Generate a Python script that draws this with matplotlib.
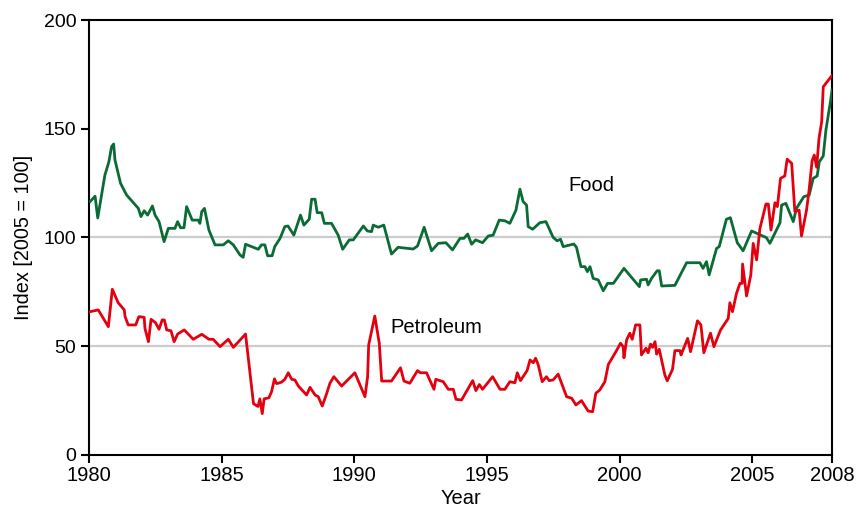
import matplotlib.pyplot as plt

# values (index, 2005 = 100)
food_year = [1980.04, 1980.23, 1980.33, 1980.6, 1980.75, 1980.85, 1980.93, 1980.98, 1981.19, 1981.42,
             1981.86, 1981.96, 1982.08, 1982.21, 1982.39, 1982.49, 1982.64, 1982.83, 1982.99, 1983.24,
             1983.34, 1983.45, 1983.58, 1983.68, 1983.89, 1984.12, 1984.18, 1984.25, 1984.35, 1984.52,
             1984.75, 1985.06, 1985.25, 1985.44, 1985.69, 1985.81, 1985.9, 1986.38, 1986.5, 1986.63,
             1986.73, 1986.9, 1987.0, 1987.2, 1987.38, 1987.5, 1987.72, 1987.97, 1988.1, 1988.3,
             1988.39, 1988.52, 1988.6, 1988.77, 1988.87, 1989.14, 1989.39, 1989.56, 1989.81, 1989.96,
             1990.34, 1990.49, 1990.65, 1990.71, 1990.9, 1991.11, 1991.4, 1991.65, 1992.22, 1992.38,
             1992.63, 1992.91, 1993.16, 1993.45, 1993.7, 1993.98, 1994.13, 1994.27, 1994.42, 1994.57,
             1994.73, 1994.83, 1995.05, 1995.23, 1995.46, 1995.67, 1995.86, 1996.09, 1996.24, 1996.36,
             1996.49, 1996.55, 1996.72, 1996.99, 1997.22, 1997.49, 1997.64, 1997.77, 1997.87, 1998.27,
             1998.37, 1998.54, 1998.69, 1998.78, 1998.88, 1999.0, 1999.19, 1999.38, 1999.54, 1999.76,
             2000.16, 2000.74, 2000.79, 2001.01, 2001.07, 2001.2, 2001.41, 2001.49, 2001.58, 2002.08,
             2002.52, 2003.02, 2003.14, 2003.27, 2003.37, 2003.65, 2003.75, 2004.02, 2004.17, 2004.43,
             2004.65, 2004.97, 2005.22, 2005.53, 2005.66, 2006.04, 2006.1, 2006.26, 2006.54, 2006.66,
             2006.94, 2007.14, 2007.29, 2007.44, 2007.52, 2007.67, 2007.77, 2007.95, 2008.0]
food_index = [116.5, 119, 109, 128.7, 134.8, 141.7, 143, 135.6, 124.9, 119.5,
              113.4, 109.6, 112.3, 110.3, 114.5, 110.3, 107.3, 98.1, 104.2, 104.2,
              107.3, 104.5, 104.5, 114.2, 108, 108, 106.5, 111.9, 113.4, 103.4,
              96.6, 96.6, 98.5, 96.6, 92, 90.9, 96.9, 94.6, 96.6, 96.6,
              91.6, 91.6, 95.8, 99.6, 105, 105.3, 101.1, 110.3, 105.7, 108.4,
              117.6, 117.6, 111.4, 111.4, 106.5, 106.5, 101.1, 94.6, 98.9, 98.9,
              105.3, 103, 102.7, 105.7, 104.7, 105.7, 92.4, 95.5, 94.7, 96.1,
              104.7, 93.9, 97.3, 97.6, 94.3, 99.6, 99.6, 101.6, 96.9, 98.9,
              98.1, 97.6, 100.7, 101.1, 108, 107.7, 106.5, 112.6, 122.2, 116.5,
              114.9, 105, 103.8, 106.8, 107.3, 100.1, 98.5, 99.2, 95.8, 97,
              95.5, 86.6, 86.6, 84.3, 86.6, 81.2, 80.5, 75.5, 78.9, 78.9,
              85.8, 77.4, 80.5, 80.8, 78.2, 81.2, 84.7, 84.7, 77.7, 78,
              88.4, 88.4, 85.8, 88.9, 82.8, 95, 95.8, 108.4, 109.1, 97.6,
              93.9, 103, 101.6, 99.9, 97.3, 106.8, 114.9, 115.7, 107.3, 113.4,
              118.8, 119.5, 127.2, 128.3, 134.8, 137.5, 149.4, 163.2, 167.8]

petrol_year = [1980.04, 1980.35, 1980.73, 1980.88, 1981.1, 1981.33, 1981.36, 1981.48, 1981.76, 1981.88,
               1982.08, 1982.11, 1982.24, 1982.34, 1982.51, 1982.64, 1982.76, 1982.84, 1982.93, 1983.09,
               1983.21, 1983.34, 1983.59, 1983.93, 1984.25, 1984.52, 1984.68, 1984.94, 1985.25, 1985.44,
               1985.9, 1986.2, 1986.37, 1986.44, 1986.53, 1986.6, 1986.78, 1986.88, 1986.99, 1987.07,
               1987.26, 1987.38, 1987.51, 1987.64, 1987.76, 1987.89, 1988.2, 1988.33, 1988.52, 1988.64,
               1988.79, 1988.95, 1989.08, 1989.23, 1989.52, 1990.02, 1990.4, 1990.5, 1990.54, 1990.77,
               1990.94, 1991.03, 1991.4, 1991.74, 1991.87, 1992.09, 1992.38, 1992.49, 1992.72, 1993.0,
               1993.07, 1993.35, 1993.54, 1993.73, 1993.83, 1994.04, 1994.46, 1994.58, 1994.71, 1994.83,
               1995.21, 1995.49, 1995.67, 1995.86, 1996.05, 1996.14, 1996.26, 1996.51, 1996.62, 1996.74,
               1996.83, 1996.93, 1997.08, 1997.24, 1997.34, 1997.49, 1997.68, 1998.0, 1998.19, 1998.35,
               1998.56, 1998.81, 1998.98, 1999.1, 1999.25, 1999.44, 1999.57, 1999.88, 2000.03, 2000.13,
               2000.16, 2000.26, 2000.38, 2000.47, 2000.6, 2000.76, 2000.82, 2000.99, 2001.07, 2001.16,
               2001.24, 2001.33, 2001.39, 2001.49, 2001.7, 2001.79, 2001.99, 2002.08, 2002.27, 2002.31,
               2002.56, 2002.67, 2002.93, 2003.06, 2003.17, 2003.42, 2003.55, 2003.8, 2004.09, 2004.15,
               2004.25, 2004.4, 2004.53, 2004.61, 2004.63, 2004.78, 2004.94, 2005.03, 2005.16, 2005.28,
               2005.51, 2005.6, 2005.7, 2005.85, 2005.94, 2006.06, 2006.22, 2006.31, 2006.48, 2006.6,
               2006.76, 2006.85, 2007.04, 2007.14, 2007.25, 2007.33, 2007.42, 2007.51, 2007.61, 2007.67,
               2007.92, 2008.0]
petrol_index = [65.9, 66.7, 59, 76.2, 70, 66.7, 63.6, 59.8, 59.8, 63.6,
                63.3, 58.2, 52.1, 62.4, 60.8, 57.8, 62.1, 62.1, 57.5, 57.1,
                52.1, 55.6, 57.5, 53.2, 55.5, 53.2, 53.2, 49.8, 53.2, 49.5,
                55.6, 23.6, 22.3, 25.8, 19, 25.8, 26.3, 29.1, 35, 32.8,
                33.5, 34.8, 37.8, 34.8, 34.5, 31.7, 27.6, 31.1, 27.6, 26.8,
                22.5, 28, 33, 36, 31.7, 37.8, 26.8, 36, 50.6, 63.9,
                51.4, 34, 34, 40.1, 34, 33, 38.8, 37.8, 37.8, 30.2,
                34.8, 33.7, 30.2, 30.2, 25.6, 25.3, 34.2, 29.6, 32.4, 30.2,
                36, 30.2, 30.2, 33.7, 33.2, 37.8, 34.2, 38.8, 43.7, 42.4,
                44.5, 41.4, 33.7, 36, 34.2, 34.5, 37.2, 26.8, 26.1, 23,
                25, 20.2, 19.9, 28.4, 29.9, 33.7, 41.6, 48, 51.4, 49.8,
                44.7, 52.9, 56, 53.2, 59.8, 59.8, 46, 49.1, 47, 51,
                49.5, 52.1, 46.4, 48.6, 36.8, 34.1, 39.4, 48, 48, 46,
                53.6, 47.5, 61.7, 59.8, 47, 56, 49.8, 57.5, 62.8, 70,
                65.9, 74.3, 78.9, 78.9, 87.8, 73.1, 82.8, 97.3, 89.7, 104,
                115.4, 115.4, 103.4, 116, 114.2, 127.2, 128.3, 136, 134.1, 111.9,
                112.6, 100.7, 112.6, 122.2, 135.3, 137.9, 132.3, 145.6, 153.2, 169.3,
                173.2, 174.5]

x_ticks = [1980, 1985, 1990, 1995, 2000, 2005, 2008]
y_ticks = [0, 50, 100, 150, 200]
grid_levels = [50, 100]

plt.rcParams['font.family'] = ['Liberation Sans', 'DejaVu Sans']

fig = plt.figure(figsize=(8.63, 5.09), dpi=100)
ax = fig.add_axes([0.1031, 0.1061, 0.861, 0.8546])

for g in grid_levels:
    ax.axhline(g, color='#cccccc', lw=1.6, zorder=1)

ax.plot(food_year, food_index, color='#0b6b34', lw=2.0, zorder=3)
ax.plot(petrol_year, petrol_index, color='#e3000f', lw=2.0, zorder=3)

ax.text(1998.95, 124, 'Food', fontsize=14.5, ha='center', va='center')
ax.text(1993.1, 58.4, 'Petroleum', fontsize=14.5, ha='center', va='center')

ax.set_xlim(1980, 2008)
ax.set_ylim(0, 200)
ax.set_xticks(x_ticks)
ax.set_yticks(y_ticks)
ax.tick_params(direction='out', length=6, width=1.5, pad=3)
ax.tick_params(axis='y', labelsize=14)
ax.tick_params(axis='x', labelsize=14.5, pad=2)
for s in ax.spines.values():
    s.set_linewidth(1.5)

ax.set_xlabel('Year', fontsize=14.5, labelpad=3)
ax.set_ylabel('Index [2005 = 100]', fontsize=14.3, labelpad=8)

fig.savefig('out.png', dpi=100)
